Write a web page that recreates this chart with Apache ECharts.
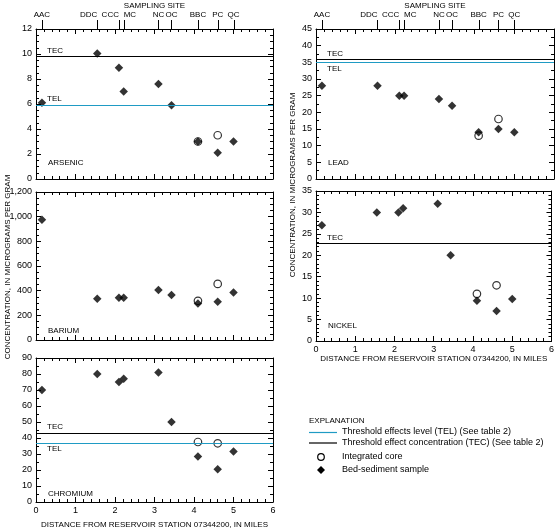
<!DOCTYPE html>
<html><head><meta charset="utf-8">
<script src="https://cdn.jsdelivr.net/npm/echarts@6/dist/echarts.min.js"></script>
<style>html,body{margin:0;padding:0;background:#fff}#c{width:557px;height:530px}</style>
</head><body><div id="c"></div><script>
// ---- data ----
const siteNames = ['AAC','DDC','CCC','MC','NC','OC','BBC','PC','QC'];
const siteMiles = [0.15, 1.55, 2.1, 2.22, 3.1, 3.43, 4.1, 4.6, 5.0];
const siteAlign = ['center','right','right','left','center','center','center','center','center'];
const coreMiles = [4.1, 4.6];

const arsenicBed = [6.1, 10.05, 8.9, 7.0, 7.6, 5.9, 3.0, 2.1, 3.0];
const arsenicCore = [3.0, 3.5];
const arsenicTEC = 9.8, arsenicTEL = 5.9;

const bariumBed = [975, 335, 342, 342, 405, 365, 295, 310, 385];
const bariumCore = [318, 455];

const chromiumBed = [70, 80, 75, 77, 81, 50, 28.5, 20.5, 31.5];
const chromiumCore = [37.5, 36.7];
const chromiumTEC = 43, chromiumTEL = 37;

const leadBed = [28, 28, 25, 25, 24, 22, 14, 15, 14];
const leadCore = [13, 18];
const leadTEC = 35.9, leadTEL = 35.0;

const nickelBed = [27, 30, 30, 31, 32, 20, 9.4, 7, 9.8];
const nickelCore = [11, 13];
const nickelTEC = 22.7;

const yTitle = 'CONCENTRATION, IN MICROGRAMS PER GRAM';
const xTitle = 'DISTANCE FROM RESERVOIR STATION 07344200, IN MILES';
const siteTitle = 'SAMPLING SITE';

// ---- styling ----
const FONT = 'Liberation Sans';
const TEAL = '#1f9bc4';
const BLACK = '#000';

const panels = [
  {name:'ARSENIC', bed:arsenicBed, core:arsenicCore, max:12, interval:2, minor:4,
   lines:[{v:arsenicTEC,t:'TEC',c:BLACK,pos:'insideStartTop'},{v:arsenicTEL,t:'TEL',c:TEAL,pos:'insideStartTop'}],
   rect:{left:36,top:29,width:237,height:150}, xLabels:false, sites:true, nameDy:16},
  {name:'BARIUM', bed:bariumBed, core:bariumCore, max:1200, interval:200, minor:4, lines:[],
   rect:{left:36,top:192,width:237,height:148}, xLabels:false, sites:false, nameDy:9},
  {name:'CHROMIUM', bed:chromiumBed, core:chromiumCore, max:90, interval:10, minor:2,
   lines:[{v:chromiumTEC,t:'TEC',c:BLACK,pos:'insideStartTop'},{v:chromiumTEL,t:'TEL',c:TEAL,pos:'insideStartBottom'}],
   rect:{left:36,top:358,width:237,height:148}, xLabels:true, sites:false, nameDy:12, nameGap:19},
  {name:'LEAD', bed:leadBed, core:leadCore, max:45, interval:5, minor:2,
   lines:[{v:leadTEC,t:'TEC',c:BLACK,pos:'insideStartTop'},{v:leadTEL,t:'TEL',c:TEAL,pos:'insideStartBottom'}],
   rect:{left:316,top:29,width:238,height:150}, xLabels:false, sites:true, nameDy:16},
  {name:'NICKEL', bed:nickelBed, core:nickelCore, max:35, interval:5, minor:5,
   lines:[{v:nickelTEC,t:'TEC',c:BLACK,pos:'insideStartTop'}],
   rect:{left:316,top:191,width:238,height:150}, xLabels:true, sites:false, nameDy:15, nameGap:12}
];

const grids = [], xAxes = [], yAxes = [], series = [];
const txt = {color:BLACK, fontFamily:FONT, fontSize:8};
const numTxt = {color:BLACK, fontFamily:FONT, fontSize:9};
const tick = {show:true, inside:true, length:5, lineStyle:{color:BLACK, width:1}};
const axLine = {show:true, onZero:false, lineStyle:{color:BLACK, width:1}};
const sitePanels = [];

panels.forEach(p => {
  const gi = grids.length;
  grids.push(Object.assign({show:false}, p.rect));
  const xi = xAxes.length, yi = yAxes.length;
  const xBase = {gridIndex:gi, type:'value', min:0, max:6, interval:1,
    axisLine:axLine, axisTick:tick,
    minorTick:{show:true, splitNumber:5, length:3, lineStyle:{color:BLACK,width:1}},
    splitLine:{show:false}, minorSplitLine:{show:false}};
  xAxes.push(Object.assign({}, xBase, {position:'bottom',
    axisLabel: p.xLabels ? Object.assign({show:true, margin:4}, numTxt) : {show:false},
    name: p.xLabels ? xTitle : '', nameLocation:'middle', nameGap:p.nameGap || 19,
    nameTextStyle: txt}));
  xAxes.push(Object.assign({}, xBase, {position:'top', axisLabel:{show:false}}));
  const yBase = {gridIndex:gi, type:'value', min:0, max:p.max, interval:p.interval,
    axisLine:axLine, axisTick:tick,
    minorTick:{show:true, splitNumber:p.minor, length:3, lineStyle:{color:BLACK,width:1}},
    splitLine:{show:false}, minorSplitLine:{show:false}};
  yAxes.push(Object.assign({}, yBase, {position:'left', axisLabel:Object.assign({show:true, margin:4}, numTxt)}));
  yAxes.push(Object.assign({}, yBase, {position:'right', axisLabel:{show:false}}));

  series.push({type:'scatter', xAxisIndex:xi, yAxisIndex:yi, z:2, silent:true,
    symbol:'circle', symbolSize:7.5,
    itemStyle:{color:'#fff', borderColor:BLACK, borderWidth:1.2},
    data: coreMiles.map((m,k)=>[m, p.core[k]])});
  series.push({type:'scatter', xAxisIndex:xi, yAxisIndex:yi, z:3, silent:true,
    symbol:'diamond', symbolSize:8.5, itemStyle:{color:BLACK},
    data: siteMiles.map((m,k)=>[m, p.bed[k]]),
    markLine: {silent:true, symbol:['none','none'], animation:false,
      data: p.lines.map(l => ({yAxis:l.v,
        lineStyle:{color:l.c, width:1.2, type:'solid'},
        label:Object.assign({show:true, formatter:l.t, position:l.pos, distance:[11,2]}, txt)}))}});

  if (p.sites) sitePanels.push({xAxisIndex: xi + 1, rect: p.rect});
});

const chart = echarts.init(document.getElementById('c'));
chart.setOption({animation:false, backgroundColor:'#fff',
  grid:grids, xAxis:xAxes, yAxis:yAxes, series:series});

// ---- text graphics ----
const g = [];
const font = '8px "' + FONT + '"';
const font9 = '9px "' + FONT + '"';
panels.forEach(p => {
  g.push({type:'text', x:p.rect.left+12, y:p.rect.top+p.rect.height-p.nameDy,
    style:{text:p.name, font:font, fill:BLACK, align:'left', verticalAlign:'middle'}});
});
sitePanels.forEach(s => {
  const top = s.rect.top;
  g.push({type:'text', x:s.rect.left + s.rect.width/2, y:6,
    style:{text:siteTitle, font:font, fill:BLACK, align:'center', verticalAlign:'middle'}});
  siteMiles.forEach((m,k) => {
    const x = chart.convertToPixel({xAxisIndex:s.xAxisIndex}, m);
    g.push({type:'rect', z:100, shape:{x:Math.round(x), y:top-9, width:1, height:9}, style:{fill:BLACK}});
    g.push({type:'text', x:x, y:top-14.5,
      style:{text:siteNames[k], font:font, fill:BLACK, align:siteAlign[k], verticalAlign:'middle'}});
  });
});
g.push({type:'text', x:8, y:267, rotation:Math.PI/2,
  style:{text:yTitle, font:font, fill:BLACK, align:'center', verticalAlign:'middle'}});
g.push({type:'text', x:293, y:185, rotation:Math.PI/2,
  style:{text:yTitle, font:font, fill:BLACK, align:'center', verticalAlign:'middle'}});

// legend
g.push({type:'text', x:309, y:421, style:{text:'EXPLANATION', font:font, fill:BLACK, verticalAlign:'middle'}});
g.push({type:'line', shape:{x1:309,y1:432.5,x2:337,y2:432.5}, style:{stroke:TEAL, lineWidth:1.2}});
g.push({type:'text', x:342, y:432, style:{text:'Threshold effects level (TEL) (See table 2)', font:font9, fill:BLACK, verticalAlign:'middle'}});
g.push({type:'line', shape:{x1:309,y1:443,x2:337,y2:443}, style:{stroke:BLACK, lineWidth:1.2}});
g.push({type:'text', x:342, y:443, style:{text:'Threshold effect concentration (TEC) (See table 2)', font:font9, fill:BLACK, verticalAlign:'middle'}});
g.push({type:'circle', shape:{cx:321, cy:457, r:3.3}, style:{fill:'#fff', stroke:BLACK, lineWidth:1.2}});
g.push({type:'text', x:342, y:457, style:{text:'Integrated core', font:font9, fill:BLACK, verticalAlign:'middle'}});
g.push({type:'polygon', shape:{points:[[321,466],[325,470],[321,474],[317,470]]}, style:{fill:BLACK}});
g.push({type:'text', x:342, y:470, style:{text:'Bed-sediment sample', font:font9, fill:BLACK, verticalAlign:'middle'}});

chart.setOption({graphic: g});
</script></body></html>
